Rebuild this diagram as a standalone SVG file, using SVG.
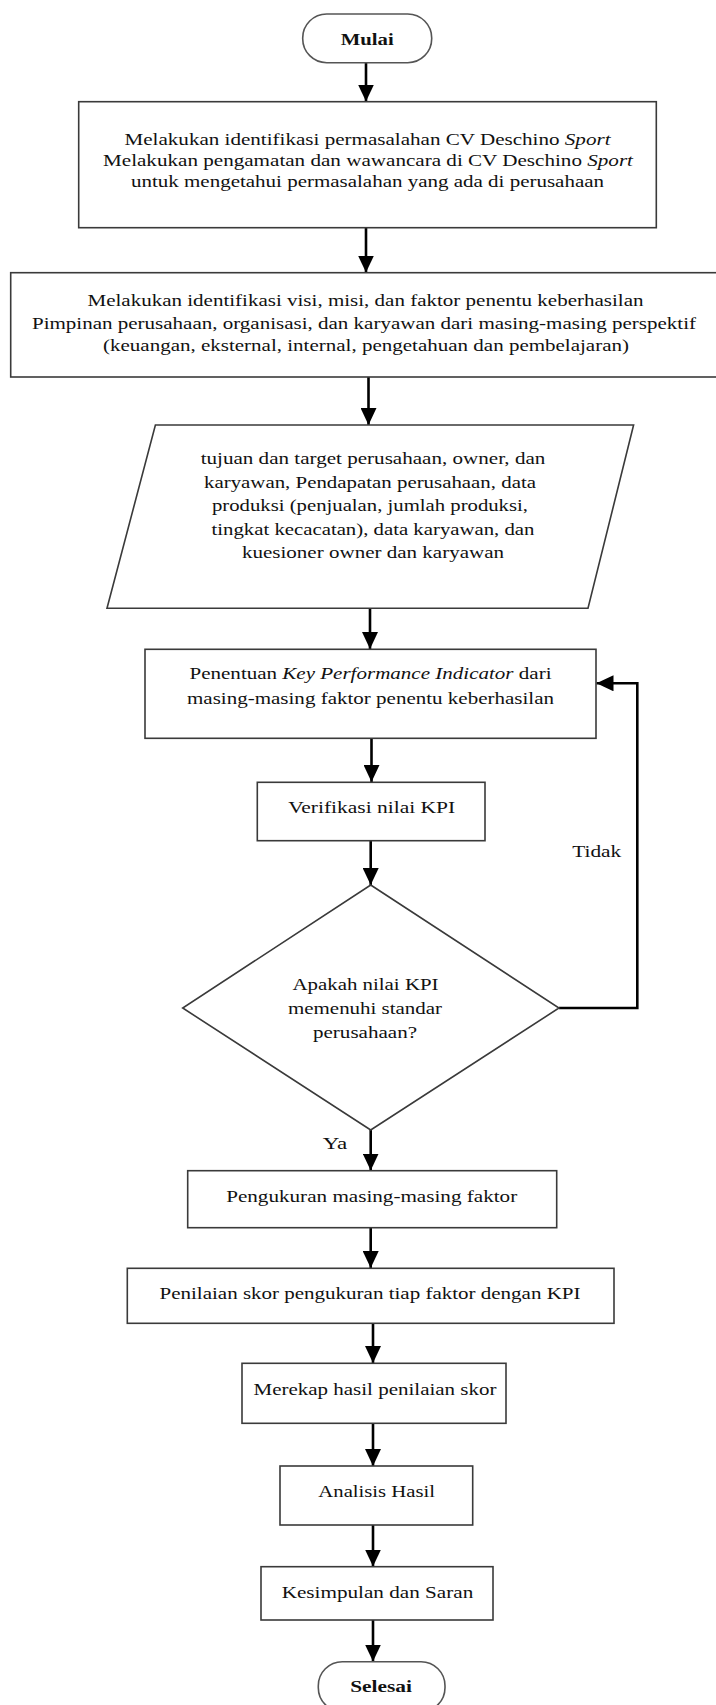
<svg xmlns="http://www.w3.org/2000/svg" width="716" height="1705" viewBox="0 0 716 1705">
  <defs>
    <style>
      .box { fill: #ffffff; stroke: #3a3a3a; stroke-width: 1.6; }
      .term { fill: #ffffff; stroke: #555555; stroke-width: 1.6; }
      .flow { fill: none; stroke: #000000; stroke-width: 2.6; }
      text { font-family: "Liberation Serif", "Times New Roman", Times, serif; font-size: 17.5px; fill: #111111; text-anchor: middle; }
      .b { font-weight: bold; }
      .i { font-style: italic; }
    </style>
    <marker id="arrow" markerUnits="userSpaceOnUse" markerWidth="17" markerHeight="16" refX="17" refY="8" orient="auto">
      <path d="M0,0 L17,8 L0,16 Z" fill="#000000"/>
    </marker>
  </defs>

  <rect x="0" y="0" width="716" height="1705" fill="#ffffff"/>

  <!-- connectors -->
  <g id="connectors">
    <line class="flow" x1="366" y1="63" x2="366" y2="101.5" marker-end="url(#arrow)"/>
    <line class="flow" x1="366" y1="228" x2="366" y2="272.5" marker-end="url(#arrow)"/>
    <line class="flow" x1="368.5" y1="377" x2="368.5" y2="425" marker-end="url(#arrow)"/>
    <line class="flow" x1="370" y1="608.5" x2="370" y2="649" marker-end="url(#arrow)"/>
    <line class="flow" x1="371.5" y1="738.5" x2="371.5" y2="782" marker-end="url(#arrow)"/>
    <line class="flow" x1="370.7" y1="841" x2="370.7" y2="885" marker-end="url(#arrow)"/>
    <line class="flow" x1="370.7" y1="1130" x2="370.7" y2="1170.5" marker-end="url(#arrow)"/>
    <line class="flow" x1="370.7" y1="1228" x2="370.7" y2="1268" marker-end="url(#arrow)"/>
    <line class="flow" x1="373" y1="1323.5" x2="373" y2="1363" marker-end="url(#arrow)"/>
    <line class="flow" x1="373" y1="1423.5" x2="373" y2="1466" marker-end="url(#arrow)"/>
    <line class="flow" x1="373" y1="1525" x2="373" y2="1566.5" marker-end="url(#arrow)"/>
    <line class="flow" x1="373" y1="1620" x2="373" y2="1661.5" marker-end="url(#arrow)"/>
    <!-- "Tidak" loop back to the KPI step -->
    <polyline class="flow" points="559,1008 637.3,1008 637.3,683.3 596.5,683.3" marker-end="url(#arrow)"/>
    <text x="596.7" y="856.7" textLength="49" lengthAdjust="spacingAndGlyphs">Tidak</text>
    <text x="335" y="1149.3" textLength="24.5" lengthAdjust="spacingAndGlyphs">Ya</text>
  </g>

  <g id="start">
    <rect class="term" x="302.7" y="14" width="129" height="48.7" rx="24" ry="24"/>
    <text class="b" x="367.2" y="45" textLength="53" lengthAdjust="spacingAndGlyphs">Mulai</text>
  </g>

  <g id="identify-problem">
    <rect class="box" x="78.7" y="101.7" width="577.6" height="126"/>
    <text x="367.5" y="145" textLength="486" lengthAdjust="spacingAndGlyphs">Melakukan identifikasi permasalahan CV Deschino <tspan class="i">Sport</tspan></text>
    <text x="368" y="166" textLength="530" lengthAdjust="spacingAndGlyphs">Melakukan pengamatan dan wawancara di CV Deschino <tspan class="i">Sport</tspan></text>
    <text x="367.5" y="187" textLength="473" lengthAdjust="spacingAndGlyphs">untuk mengetahui permasalahan yang ada di perusahaan</text>
  </g>

  <g id="identify-vision">
    <rect class="box" x="10.7" y="272.7" width="720" height="104.3"/>
    <text x="365.5" y="306" textLength="556" lengthAdjust="spacingAndGlyphs">Melakukan identifikasi visi, misi, dan faktor penentu keberhasilan</text>
    <text x="364" y="328.5" textLength="664" lengthAdjust="spacingAndGlyphs">Pimpinan perusahaan, organisasi, dan karyawan dari masing-masing perspektif</text>
    <text x="366" y="351" textLength="526" lengthAdjust="spacingAndGlyphs">(keuangan, eksternal, internal, pengetahuan dan pembelajaran)</text>
  </g>

  <g id="data-input">
    <polygon class="box" points="155.4,425 633.6,425 588,608.3 107,608.3"/>
    <text x="373" y="464" textLength="344.7" lengthAdjust="spacingAndGlyphs">tujuan dan target perusahaan, owner, dan</text>
    <text x="370" y="487.5" textLength="332" lengthAdjust="spacingAndGlyphs">karyawan, Pendapatan perusahaan, data</text>
    <text x="370" y="511" textLength="316" lengthAdjust="spacingAndGlyphs">produksi (penjualan, jumlah produksi,</text>
    <text x="373" y="534.5" textLength="323" lengthAdjust="spacingAndGlyphs">tingkat kecacatan), data karyawan, dan</text>
    <text x="373" y="558" textLength="262" lengthAdjust="spacingAndGlyphs">kuesioner owner dan karyawan</text>
  </g>

  <g id="define-kpi">
    <rect class="box" x="145" y="649.3" width="451" height="89"/>
    <text x="370.5" y="678.5" textLength="362" lengthAdjust="spacingAndGlyphs">Penentuan <tspan class="i">Key Performance Indicator</tspan> dari</text>
    <text x="370.5" y="703.5" textLength="367" lengthAdjust="spacingAndGlyphs">masing-masing faktor penentu keberhasilan</text>
  </g>

  <g id="verify-kpi">
    <rect class="box" x="257.3" y="782.3" width="227.7" height="58.4"/>
    <text x="371.7" y="812.7" textLength="167" lengthAdjust="spacingAndGlyphs">Verifikasi nilai KPI</text>
  </g>

  <g id="decision">
    <polygon class="box" points="370.7,885 559,1008 370.7,1130 182.7,1008"/>
    <text x="365.5" y="990" textLength="146" lengthAdjust="spacingAndGlyphs">Apakah nilai KPI</text>
    <text x="365" y="1014" textLength="154" lengthAdjust="spacingAndGlyphs">memenuhi standar</text>
    <text x="365" y="1038.3" textLength="104" lengthAdjust="spacingAndGlyphs">perusahaan?</text>
  </g>

  <g id="measure">
    <rect class="box" x="187.7" y="1170.7" width="369" height="57"/>
    <text x="371.7" y="1201.7" textLength="291" lengthAdjust="spacingAndGlyphs">Pengukuran masing-masing faktor</text>
  </g>

  <g id="score">
    <rect class="box" x="127.3" y="1268.3" width="486.7" height="55"/>
    <text x="370" y="1299.3" textLength="421" lengthAdjust="spacingAndGlyphs">Penilaian skor pengukuran tiap faktor dengan KPI</text>
  </g>

  <g id="recap">
    <rect class="box" x="242" y="1363.3" width="264" height="60"/>
    <text x="375" y="1395" textLength="243" lengthAdjust="spacingAndGlyphs">Merekap hasil penilaian skor</text>
  </g>

  <g id="analysis">
    <rect class="box" x="280" y="1466" width="192.7" height="59"/>
    <text x="376.7" y="1496.7" textLength="116.7" lengthAdjust="spacingAndGlyphs">Analisis Hasil</text>
  </g>

  <g id="conclusion">
    <rect class="box" x="261" y="1566.7" width="232" height="53.3"/>
    <text x="377.5" y="1598.3" textLength="191.6" lengthAdjust="spacingAndGlyphs">Kesimpulan dan Saran</text>
  </g>

  <g id="end">
    <rect class="term" x="318.3" y="1661.7" width="126.7" height="50" rx="24" ry="24"/>
    <text class="b" x="381" y="1691.7" textLength="61.7" lengthAdjust="spacingAndGlyphs">Selesai</text>
  </g>
</svg>
